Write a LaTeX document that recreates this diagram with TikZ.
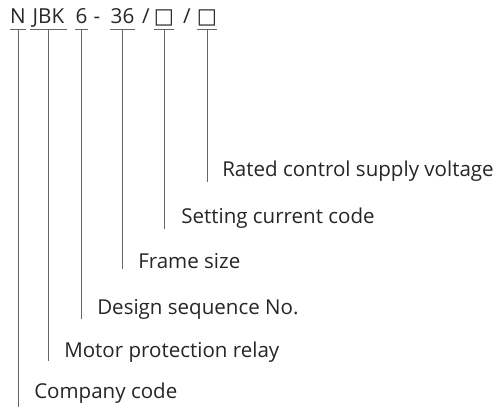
\documentclass[tikz,border=0pt]{standalone}
\usepackage{fontspec}
\setmainfont{Open Sans}
\newfontfamily\symfont{DejaVu Sans}
\begin{document}
\begin{tikzpicture}[x=0.75pt,y=-0.75pt,
  seg/.style={inner sep=0pt,anchor=base,text height=9pt,text depth=4.5pt,font=\fontsize{15.5}{17}\selectfont,text=black!85},
  plain/.style={inner sep=0pt,anchor=base,font=\fontsize{15.5}{17}\selectfont,text=black!85},
  lbl/.style={inner sep=0pt,anchor=base west,font=\fontsize{15.4}{18}\selectfont,text=black!85},
  ln/.style={draw=black!60,line width=0.6pt}]
\useasboundingbox (0,0) rectangle (502,411);
% header segments
\node[seg,minimum width=9pt] (sN) at (18,23) {N};
\node[seg,minimum width=27.5pt] (sJ) at (48.5,23) {JBK};
\node[seg,minimum width=8.5pt] (s6) at (81.5,23) {6};
\node[plain] (dash) at (97,23) {-};
\node[seg,minimum width=19pt] (s36) at (122.5,23) {36};
\node[plain] (sl1) at (146,23) {/};
\node[seg,minimum width=13.5pt] (b1) at (164,23) {{\symfont\fontsize{16}{17}\selectfont □}};
\node[plain] (sl2) at (187,23) {/};
\node[seg,minimum width=13.5pt] (b2) at (207,23) {{\symfont\fontsize{16}{17}\selectfont □}};
% underlines
\foreach \n in {sN,sJ,s6,s36,b1,b2} \draw[ln] (\n.south west) -- (\n.south east);
% line ends
\coordinate (eN) at (18,407);
\coordinate (eJ) at (48.5,361);
\coordinate (e6) at (81.5,319);
\coordinate (e36) at (122.5,269);
\coordinate (eb1) at (164,229);
\coordinate (eb2) at (207,182);
\draw[ln] (sN.south) -- (eN);
\draw[ln] (sJ.south) -- (eJ);
\draw[ln] (s6.south) -- (e6);
\draw[ln] (s36.south) -- (e36);
\draw[ln] (b1.south) -- (eb1);
\draw[ln] (b2.south) -- (eb2);
% labels
\node[lbl] (lb2) at (222,176) {Rated control supply voltage};
\node[lbl] (lb1) at (181,223) {Setting current code};
\node[lbl] (l36) at (138,268) {Frame size};
\node[lbl] (l6) at (97,314) {Design sequence No.};
\node[lbl] (lJ) at (64,357) {Motor protection relay};
\node[lbl] (lN) at (34,398) {Company code};
\end{tikzpicture}
\end{document}
